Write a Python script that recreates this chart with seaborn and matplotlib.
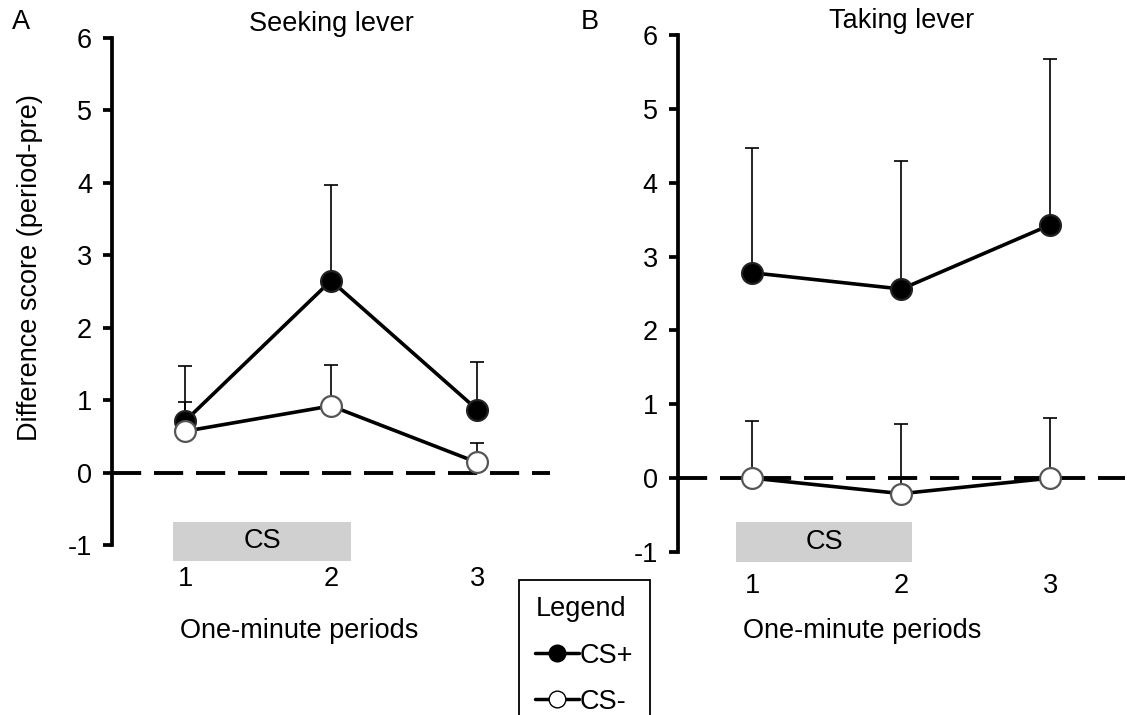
import numpy as np
import pandas as pd
import matplotlib.pyplot as plt
from matplotlib.lines import Line2D
from matplotlib.patches import Rectangle
import seaborn as sns

sns.set_theme(style='white')
plt.rcParams['font.family'] = ['Liberation Sans', 'DejaVu Sans']
plt.rcParams['axes.unicode_minus'] = False
for k in ['text.color', 'axes.labelcolor', 'xtick.color', 'ytick.color']:
    plt.rcParams[k] = 'black'

# valores
periods = [1, 2, 3]
tick_labels = ['1', '2', '3']

seek_csp = [0.71, 2.65, 0.87]
seek_csp_sem = [0.76, 1.32, 0.65]
seek_csm = [0.57, 0.92, 0.14]
seek_csm_sem = [0.40, 0.57, 0.27]

take_csp = [2.78, 2.56, 3.43]
take_csp_sem = [1.69, 1.74, 2.25]
take_csm = [0.0, -0.21, 0.0]
take_csm_sem = [0.78, 0.94, 0.81]

cs_span_seek = [0.92, 2.14]
cs_span_take = [0.89, 2.07]

FS = 19.5

fig = plt.figure(figsize=(11.27, 7.15), dpi=100)
ax_a = fig.add_axes([0.0994, 0.2378, 0.3887, 0.7091])
ax_b = fig.add_axes([0.6016, 0.2280, 0.3966, 0.7231])


def draw_panel(ax, csp, csp_sem, csm, csm_sem, cs_span, cs_y, title, xlab_x, xlab_y):
    # linha tracejada do zero
    ax.axhline(0, color='black', lw=2.8, linestyle=(0, (7.5, 3.3)), zorder=1)

    series = [(csp, csp_sem, 'black', '#222222'), (csm, csm_sem, 'white', '#555555')]
    for vals, sem, face, edge in series:
        df = pd.DataFrame({'period': periods, 'score': vals})
        ax.errorbar(periods, vals, yerr=[np.zeros(len(sem)), sem], fmt='none',
                    ecolor='black', elinewidth=1.2, capsize=5, capthick=1.2, zorder=2)
        sns.lineplot(data=df, x='period', y='score', ax=ax, color='black', lw=2.6,
                     marker='o', markersize=15, markerfacecolor=face,
                     markeredgecolor=edge, markeredgewidth=1.6, errorbar=None, zorder=3)

    ax.set_xlim(0.5, 3.5)
    ax.set_ylim(-1, 6)
    ax.set_yticks(range(-1, 7))
    ax.set_xticks(periods)
    ax.set_xticklabels(tick_labels)

    for s in ['top', 'right', 'bottom']:
        ax.spines[s].set_visible(False)
    ax.spines['left'].set_linewidth(2.7)
    ax.spines['left'].set_color('black')
    ax.tick_params(axis='y', left=True, length=6.5, width=2.7, color='black',
                   labelsize=FS, pad=8)
    ax.tick_params(axis='x', bottom=False, length=0, labelsize=FS, pad=15)

    # barra cinza do CS
    rect = Rectangle((cs_span[0], cs_y[0]), cs_span[1] - cs_span[0], cs_y[1] - cs_y[0],
                     facecolor='#d0d0d0', edgecolor='none', clip_on=False, zorder=0)
    ax.add_patch(rect)
    ax.text(sum(cs_span) / 2, sum(cs_y) / 2, 'CS', ha='center', va='center', fontsize=FS)

    ax.set_title(title, fontsize=FS, pad=5)
    ax.set_xlabel('One-minute periods', fontsize=FS)
    ax.xaxis.set_label_coords(xlab_x, xlab_y)
    ax.set_ylabel('')


draw_panel(ax_a, seek_csp, seek_csp_sem, seek_csm, seek_csm_sem, cs_span_seek,
           [-0.68, -1.22], 'Seeking lever', 0.427, -0.145)
draw_panel(ax_b, take_csp, take_csp_sem, take_csm, take_csm_sem, cs_span_take,
           [-0.60, -1.14], 'Taking lever', 0.413, -0.128)

ax_a.set_ylabel('Difference score (period-pre)', fontsize=FS)
ax_a.yaxis.set_label_coords(-0.158, 0.548)

fig.text(12 / 1127, 1 - 22 / 715, 'A', fontsize=FS, va='center', ha='left')
fig.text(581 / 1127, 1 - 22 / 715, 'B', fontsize=FS, va='center', ha='left')

handles = [
    Line2D([], [], color='black', lw=2.5, marker='o', markersize=12,
           markerfacecolor='black', markeredgecolor='black'),
    Line2D([], [], color='black', lw=2.5, marker='o', markersize=12,
           markerfacecolor='white', markeredgecolor='black'),
]
leg = fig.legend(handles, ['CS+', 'CS-'], title='Legend', loc='upper left',
                 bbox_to_anchor=(519 / 1127, 1 - 580 / 715), borderaxespad=0,
                 fontsize=FS, title_fontsize=FS, handlelength=1.6, handletextpad=0.05,
                 labelspacing=0.75, fancybox=False, framealpha=1, alignment='left',
                 borderpad=0.6)
leg.get_frame().set_edgecolor('black')
leg.get_frame().set_linewidth(1.3)

plt.savefig('out.png', dpi=100)
